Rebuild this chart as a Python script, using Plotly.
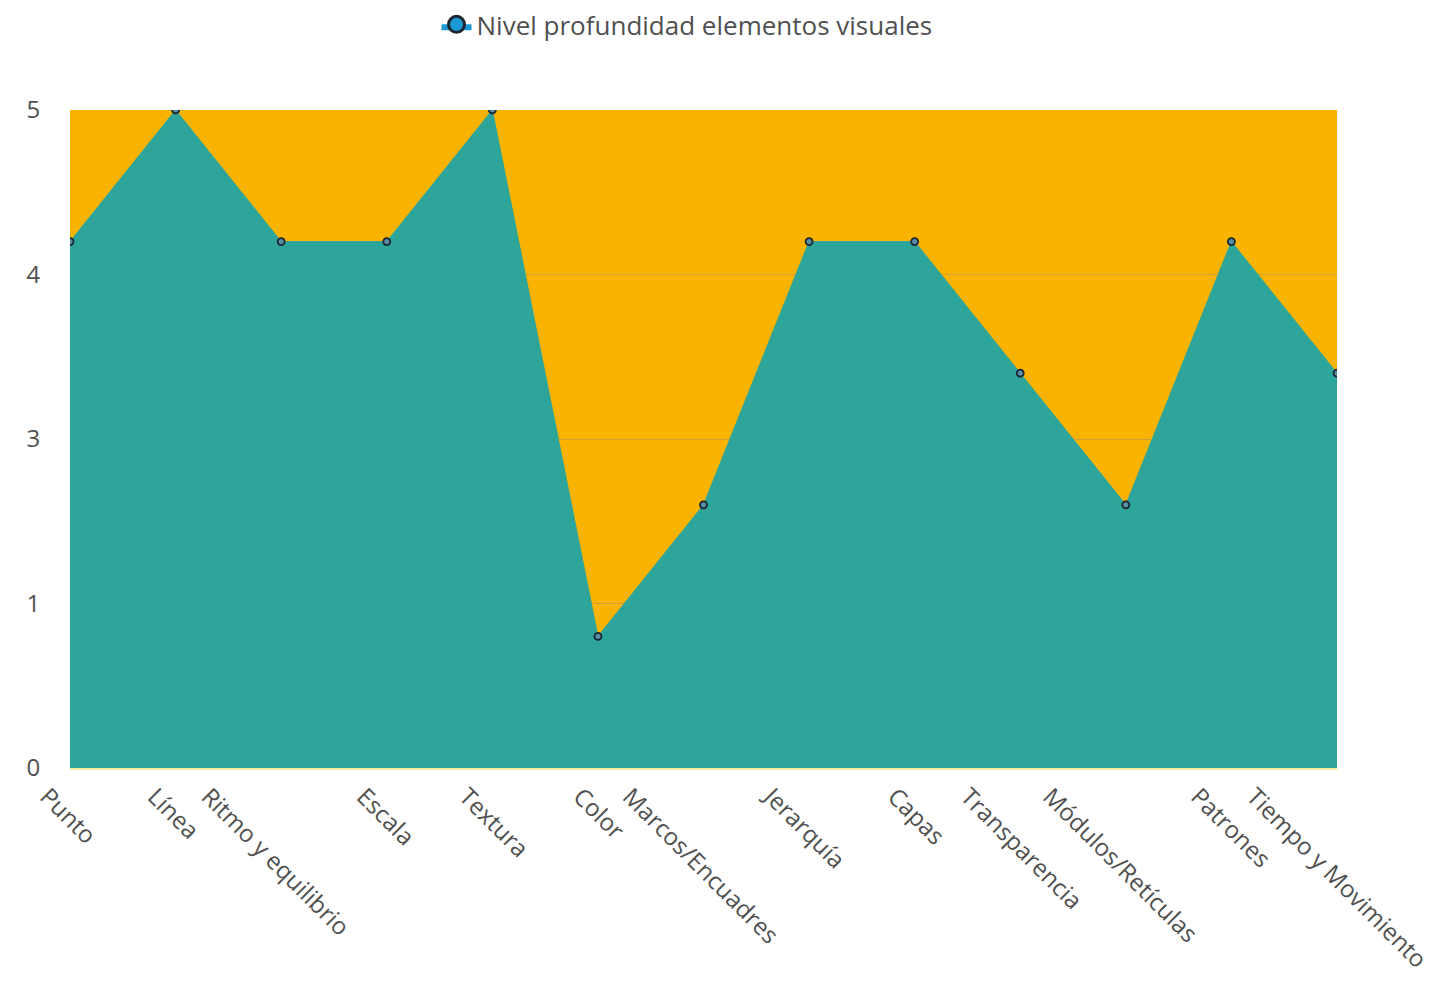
import plotly.graph_objects as go

# Elementos visuales y su nivel de profundidad (escala 0-5)
categories = ["Punto", "Línea", "Ritmo y equilibrio", "Escala", "Textura", "Color",
              "Marcos/Encuadres", "Jerarquía", "Capas", "Transparencia",
              "Módulos/Retículas", "Patrones", "Tiempo y Movimiento"]
values = [4, 5, 4, 4, 5, 1, 2, 4, 4, 3, 2, 4, 3]
series_name = "Nivel profundidad elementos visuales"

# Eje Y: cinco marcas repartidas en 0-5, con etiquetas redondeadas
y_tickvals = [0, 1.25, 2.5, 3.75, 5]
y_ticktext = ["0", "1", "3", "4", "5"]

# Posición de cada rótulo del eje X (en unidades de categoría)
label_pos = [0, 1.02, 1.53, 3.0, 3.97, 5.05, 5.52, 6.86, 8.03, 8.72, 9.5, 10.9, 11.43]

TEAL = "#2EA59A"
ORANGE = "#FBB301"
BLUE = "#1C9AD6"
TEXT = "#505050"
FONT = "Open Sans, Noto Sans, sans-serif"

xs = list(range(len(values)))

fig = go.Figure()

fig.add_trace(go.Scatter(
    x=xs, y=values,
    mode="lines+markers",
    fill="tozeroy",
    fillcolor=TEAL,
    line=dict(color=TEAL, width=1),
    marker=dict(size=7, color="#5a8fa8", line=dict(color="#1b2631", width=1.8)),
    showlegend=False,
    hoverinfo="x+y",
))

# Entrada de leyenda
fig.add_trace(go.Scatter(
    x=[None], y=[None],
    mode="markers",
    fill="toself",
    fillcolor=BLUE,
    marker=dict(size=16, color=BLUE, line=dict(color="#1b2631", width=3)),
    name=series_name,
    showlegend=True,
))

fig.update_layout(
    width=1437, height=984,
    margin=dict(l=70, r=100, t=110, b=216, autoexpand=False),
    paper_bgcolor="white",
    plot_bgcolor=ORANGE,
    font=dict(family=FONT, color=TEXT, size=22),
    legend=dict(
        orientation="h",
        x=0.487, xanchor="center",
        y=1.13, yanchor="middle",
        font=dict(size=26, color=TEXT),
        bgcolor="rgba(0,0,0,0)",
    ),
    xaxis=dict(
        range=[0, len(values) - 1],
        tickmode="array",
        tickvals=label_pos,
        ticktext=categories,
        tickangle=45,
        ticks="outside", ticklen=3, tickcolor="rgba(0,0,0,0)",
        ticklabelshift=-23,
        ticklabeloverflow="allow",
        showgrid=False,
        zeroline=False,
        showline=True, linecolor="#F6EBA5", linewidth=2,
        tickfont=dict(size=24, color=TEXT),
        fixedrange=True,
    ),
    yaxis=dict(
        range=[0, 5],
        tickmode="array",
        tickvals=y_tickvals,
        ticktext=y_ticktext,
        ticks="outside", ticklen=24, tickcolor="rgba(0,0,0,0)",
        showgrid=True, gridcolor="#D4A03C", gridwidth=1.2,
        zeroline=False,
        tickfont=dict(size=24, color=TEXT),
        fixedrange=True,
    ),
)

fig.write_html("out.html")
